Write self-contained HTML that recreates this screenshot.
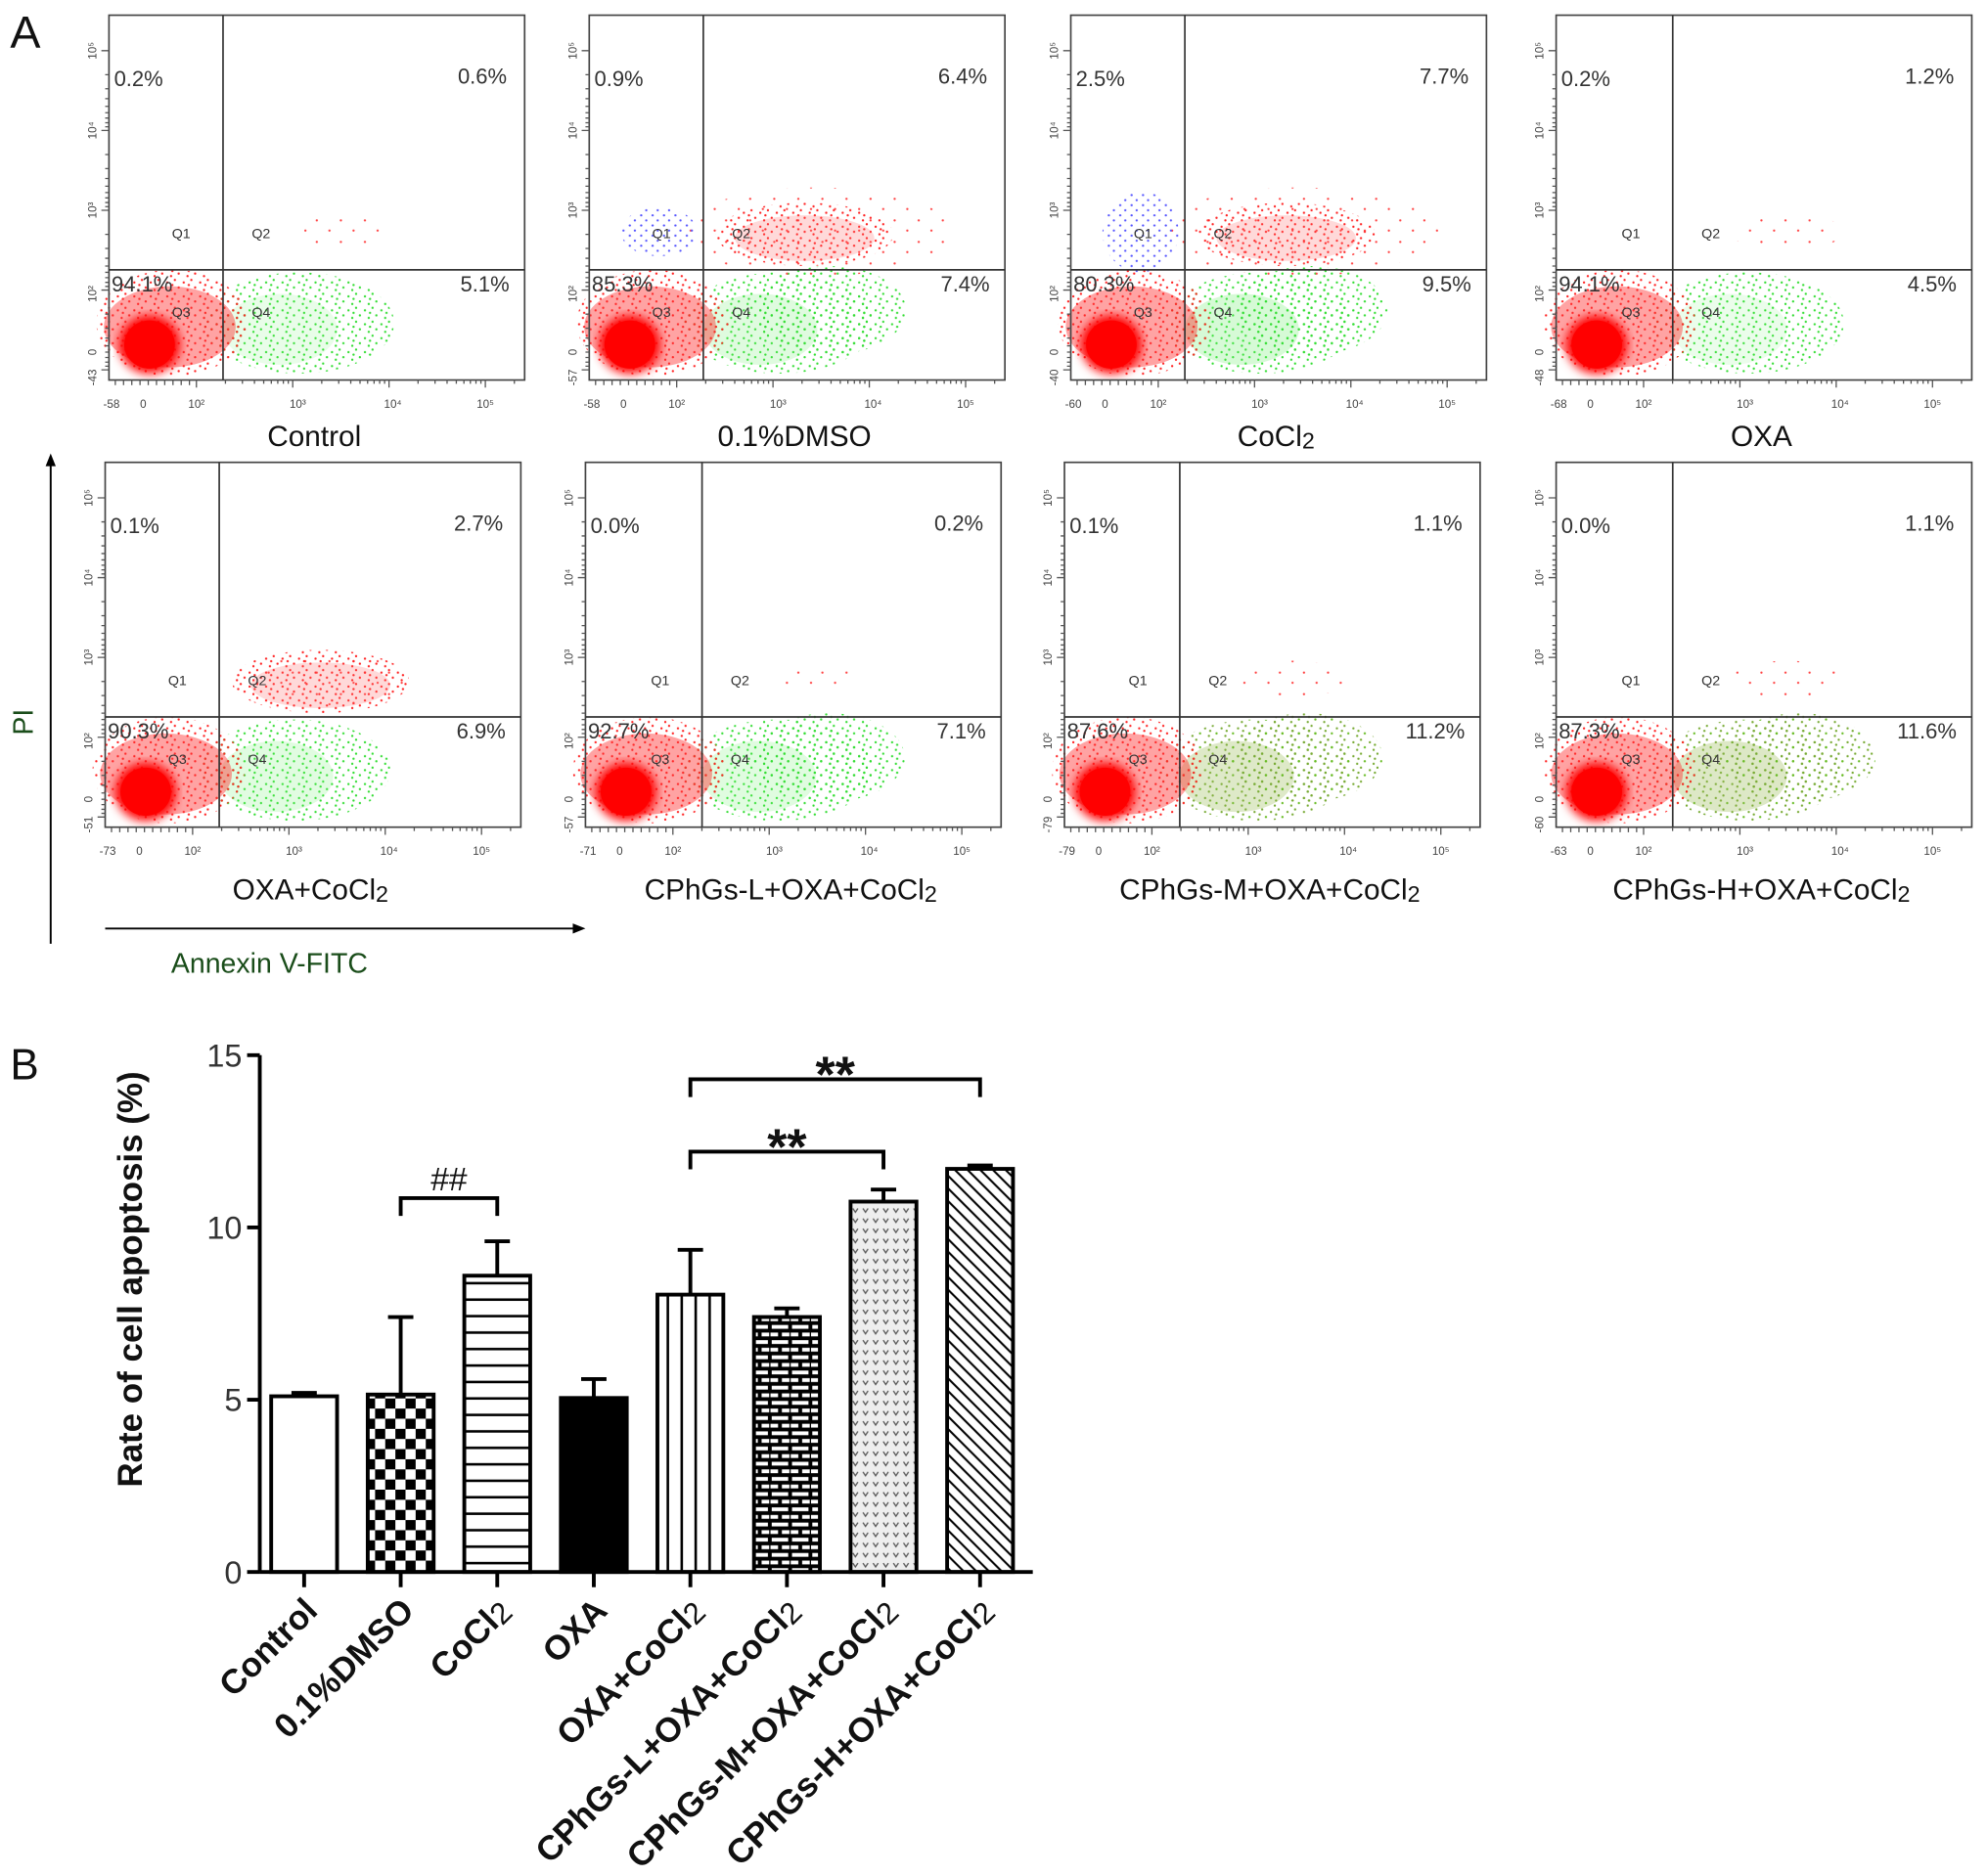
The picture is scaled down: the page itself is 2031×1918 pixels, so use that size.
<!DOCTYPE html>
<html><head><meta charset="utf-8"><style>
html,body{margin:0;padding:0;background:#fff}
svg{display:block}
text{font-family:"Liberation Sans",sans-serif}
</style></head><body>
<svg id="fig" width="2031" height="1918" viewBox="0 0 1568 1481" preserveAspectRatio="none" xmlns="http://www.w3.org/2000/svg">
<defs>
<pattern id="pChecker" width="16" height="16" patternUnits="userSpaceOnUse"><rect width="16" height="16" fill="#fff"/><rect width="8" height="8" fill="#000"/><rect x="8" y="8" width="8" height="8" fill="#000"/></pattern>
<pattern id="pHoriz" width="10" height="13" patternUnits="userSpaceOnUse"><rect width="10" height="13" fill="#fff"/><rect y="11" width="10" height="2" fill="#000"/></pattern>
<pattern id="pVert" width="11" height="10" patternUnits="userSpaceOnUse"><rect width="11" height="10" fill="#fff"/><rect x="9" width="2" height="10" fill="#000"/></pattern>
<pattern id="pBrick" width="16" height="12" patternUnits="userSpaceOnUse"><rect width="16" height="12" fill="#000"/><rect x="1" y="2" width="13" height="3" fill="#fff"/><rect x="9" y="8" width="6" height="3" fill="#fff"/><rect x="0" y="8" width="6" height="3" fill="#fff"/></pattern>
<pattern id="pVee" width="8" height="8" patternUnits="userSpaceOnUse"><rect width="8" height="8" fill="#eee"/><path d="M1 2 L3 5 L5 2" stroke="#555" stroke-width="1" fill="none"/></pattern>
<pattern id="pDiag" width="10" height="10" patternUnits="userSpaceOnUse"><rect width="10" height="10" fill="#fff"/><path d="M-2 -2 L12 12 M-2 8 L2 12 M8 -2 L12 2" stroke="#000" stroke-width="1.6"/></pattern>
<pattern id="dRed" width="13" height="11" patternUnits="userSpaceOnUse"><circle cx="2" cy="3" r="0.9" fill="#f22"/><circle cx="8" cy="1" r="0.9" fill="#f22"/><circle cx="11" cy="7" r="0.9" fill="#f22"/><circle cx="5" cy="9" r="0.9" fill="#f22"/><circle cx="6" cy="5" r="0.9" fill="#f22"/></pattern>
<pattern id="dGreen" width="13" height="11" patternUnits="userSpaceOnUse"><circle cx="2" cy="3" r="0.9" fill="#3d3"/><circle cx="8" cy="1" r="0.9" fill="#3d3"/><circle cx="11" cy="7" r="0.9" fill="#3d3"/><circle cx="5" cy="9" r="0.9" fill="#3d3"/><circle cx="6" cy="5" r="0.9" fill="#3d3"/></pattern>
<pattern id="dOlive" width="13" height="11" patternUnits="userSpaceOnUse"><circle cx="2" cy="3" r="0.9" fill="#7a3"/><circle cx="8" cy="1" r="0.9" fill="#7a3"/><circle cx="11" cy="7" r="0.9" fill="#6b2"/><circle cx="5" cy="9" r="0.9" fill="#7a3"/><circle cx="6" cy="5" r="0.9" fill="#7a3"/></pattern>
<pattern id="dBlue" width="9" height="8" patternUnits="userSpaceOnUse"><circle cx="2" cy="2" r="0.9" fill="#55f"/><circle cx="6" cy="6" r="0.9" fill="#55f"/></pattern>
<pattern id="dRedS" width="19" height="17" patternUnits="userSpaceOnUse"><circle cx="3" cy="4" r="0.9" fill="#f44"/><circle cx="13" cy="12" r="0.9" fill="#f44"/></pattern>
<filter id="blur"><feGaussianBlur stdDeviation="4"/></filter>
</defs>
<g id="panelA"></g>
<g id="panelB"></g>
</svg>
<script>
const NS='http://www.w3.org/2000/svg';
function mk(tag,attrs,parent,txt){const e=document.createElementNS(NS,tag);for(const k in attrs)e.setAttribute(k,attrs[k]);if(txt!==undefined)e.textContent=txt;parent.appendChild(e);return e;}

// ---------- Panel A data ----------
const flowTitles=['Control','0.1%DMSO','CoCl2','OXA','OXA+CoCl2','CPhGs-L+OXA+CoCl2','CPhGs-M+OXA+CoCl2','CPhGs-H+OXA+CoCl2'];
const q1Vals=['0.2%','0.9%','2.5%','0.2%','0.1%','0.0%','0.1%','0.0%'];
const q2Vals=['0.6%','6.4%','7.7%','1.2%','2.7%','0.2%','1.1%','1.1%'];
const q3Vals=['94.1%','85.3%','80.3%','94.1%','90.3%','92.7%','87.6%','87.3%'];
const q4Vals=['5.1%','7.4%','9.5%','4.5%','6.9%','7.1%','11.2%','11.6%'];
const xMinLabels=['-58','-58','-60','-68','-73','-71','-79','-63'];
const yMinLabels=['-43','-57','-40','-48','-51','-57','-79','-60'];

const boxes=[[86,12,90,201],[465,12,90,201],[845,12,90,201],[1228,12,92,201],[83,365,90,201],[462,365,92,201],[840,365,91,201],[1228,365,92,201]];
const A=document.getElementById('panelA');
const la=mk('text',{x:8,y:38,'font-size':36,fill:'#111'},A,'A');


boxes.forEach((b,i)=>{
  const [x0,y0,gdx,gdy]=b;const w=328,h=288;const gx=x0+gdx,gy=y0+gdy;const yb=y0+h;
  const g=mk('g',{},A);
  
  
  const q2=parseFloat(q2Vals[i]),q4=parseFloat(q4Vals[i]),q1=parseFloat(q1Vals[i]);
  const olive=i>=6;
  mk('ellipse',{cx:gx+60,cy:yb-45,rx:75,ry:40,fill:olive?'url(#dOlive)':'url(#dGreen)',opacity:1},g);
  mk('ellipse',{cx:gx+45,cy:yb-40,rx:45,ry:28,fill:olive?'#9b5':'#6e6',opacity:Math.min(.35,q4/35)},g);
  if(q4>7) mk('ellipse',{cx:gx+100,cy:yb-55,rx:60,ry:35,fill:olive?'url(#dOlive)':'url(#dGreen)'},g);
  mk('ellipse',{cx:gx+90,cy:gy-30,rx:Math.min(110,30+q2*12),ry:Math.min(35,10+q2*4),fill:'url(#dRedS)'},g);
  if(q2>2) mk('ellipse',{cx:gx+80,cy:gy-28,rx:70,ry:25,fill:'url(#dRed)'},g);
  if(q2>2) mk('ellipse',{cx:gx+80,cy:gy-25,rx:55,ry:18,fill:'#f66',opacity:.25},g);
  if(q1>0.5) mk('ellipse',{cx:gx-35,cy:gy-30,rx:30,ry:Math.min(35,12+q1*8),fill:'url(#dBlue)'},g);
  mk('ellipse',{cx:x0+50,cy:yb-45,rx:60,ry:42,fill:'url(#dRed)'},g);
  mk('ellipse',{cx:x0+48,cy:yb-42,rx:52,ry:32,fill:'#f33',opacity:.45},g);
  mk('ellipse',{cx:x0+32,cy:yb-28,rx:24,ry:23,fill:'#f00',filter:'url(#blur)'},g);
  mk('ellipse',{cx:x0+32,cy:yb-28,rx:20,ry:19,fill:'#f00'},g);
  mk('rect',{x:x0,y:y0,width:w,height:h,fill:'none',stroke:'#444','stroke-width':1.3},g);
  mk('line',{x1:gx,y1:y0,x2:gx,y2:yb,stroke:'#333','stroke-width':1.3},g);
  mk('line',{x1:x0,y1:gy,x2:x0+w,y2:gy,stroke:'#333','stroke-width':1.3},g);
  let d='';
  for(let k=0;k<5;k++){for(let m=1;m<10;m++){const yy=y0+28+k*63+Math.log10(m)*63; if(yy<yb) d+=`M${x0-(m==1?6:3)} ${yy.toFixed(1)}H${x0}`;}
    for(let m=1;m<10;m++){const xt=x0+69+(k)*76-76+Math.log10(m)*76; if(k>0&&xt<x0+w) d+=`M${xt.toFixed(1)} ${yb}V${yb+(m==1?6:3)}`;}}
  for(let m=0;m<10;m++){d+=`M${x0+5+m*6.5} ${yb}V${yb+4}`;}
  mk('path',{d:d,stroke:'#555','stroke-width':1,fill:'none'},g);
  const xl=[[xMinLabels[i],2],['0',27],['10²',69],['10³',149],['10⁴',224],['10⁵',297]];
  xl.forEach(([t,dx])=>mk('text',{x:x0+dx,y:yb+22,'font-size':9,'text-anchor':'middle',fill:'#444'},g,t));
  const yl=[['10⁵',28],['10⁴',91],['10³',154],['10²',220],['0',266],[yMinLabels[i],286]];
  yl.forEach(([t,dy])=>mk('text',{x:0,y:0,'font-size':9,'text-anchor':'middle',fill:'#444',transform:`translate(${x0-10},${y0+dy}) rotate(-90)`},g,t));
  [['Q1',gx-33,gy-25],['Q2',gx+30,gy-25],['Q3',gx-33,gy+37],['Q4',gx+30,gy+37]].forEach(([t,qx,qy])=>mk('text',{x:qx,y:qy,'font-size':11,'text-anchor':'middle',fill:'#333'},g,t));
  const pct=[[q1Vals[i],x0+4,y0+56,'start'],[q2Vals[i],x0+w-14,y0+54,'end'],[q3Vals[i],x0+2,gy+17,'start'],[q4Vals[i],x0+w-12,gy+17,'end']];
  pct.forEach(([t,px,py,an],j)=>{const e=mk('text',{x:px,y:py,'font-size':17,'text-anchor':an,fill:'#333','font-family':'DejaVu Sans, sans-serif'},g,t);
    });
  const tt=flowTitles[i];
  const te=mk('text',{x:x0+w/2-2,y:yb+(i<4?52:57),'font-size':23,'text-anchor':'middle',fill:'#111'},g);
  
  if(tt.endsWith('CoCl2')){te.appendChild(document.createTextNode(tt.slice(0,-1)));mk('tspan',{'font-size':18,dy:2},te,'2');}
  else te.textContent=tt;
});
mk('line',{x1:40,y1:745,x2:40,y2:364,stroke:'#000','stroke-width':1.5},A);
mk('path',{d:'M36 368 L40 358 L44 368 Z',fill:'#000'},A);
mk('line',{x1:83,y1:733,x2:456,y2:733,stroke:'#000','stroke-width':1.5},A);
mk('path',{d:'M452 729 L462 733 L452 737 Z',fill:'#000'},A);
const pi=mk('text',{x:0,y:0,'font-size':22,fill:'#1a4d1a','text-anchor':'middle',transform:'translate(26,570) rotate(-90)'},A,'PI');

const an=mk('text',{x:135,y:768,'font-size':22,fill:'#1a4d1a'},A,'Annexin V-FITC');


// ---------- Panel B data ----------
const categories=['Control','0.1%DMSO','CoCl2','OXA','OXA+CoCl2','CPhGs-L+OXA+CoCl2','CPhGs-M+OXA+CoCl2','CPhGs-H+OXA+CoCl2'];
const meanValues=[5.1,5.15,8.6,5.05,8.05,7.4,10.75,11.7];
const errValues=[0.1,2.25,1.0,0.55,1.3,0.25,0.35,0.1];
const yTicks=[0,5,10,15];
const fills=['#fff','url(#pChecker)','url(#pHoriz)','#000','url(#pVert)','url(#pBrick)','url(#pVee)','url(#pDiag)'];

const B=document.getElementById('panelB');
const lb=mk('text',{x:8,y:852,'font-size':34,fill:'#111'},B,'B');

const axX=205,axRight=815,y0px=1241,y15px=833;
const yS=v=>y0px-(v/15)*(y0px-y15px);
const xS=i=>240+i*76.2;
const bw=52;
meanValues.forEach((v,i)=>{
  const cx=xS(i);
  const eb=mk('path',{d:`M${cx} ${yS(v)}V${yS(v+errValues[i])}M${cx-10} ${yS(v+errValues[i])}H${cx+10}`,stroke:'#000','stroke-width':3,fill:'none'},B);
  
  const r=mk('rect',{x:cx-bw/2,y:yS(v),width:bw,height:y0px-yS(v),fill:fills[i],stroke:'#000','stroke-width':3},B);
  
  
  mk('line',{x1:cx,y1:y0px,x2:cx,y2:y0px+12,stroke:'#000','stroke-width':3},B);
  const lab=mk('text',{x:0,y:0,'font-size':27,'font-weight':'bold','text-anchor':'end',fill:'#111',transform:`translate(${cx+12},${y0px+32}) rotate(-45)`},B);
  
  const c=categories[i];
  if(c.endsWith('CoCl2')){lab.appendChild(document.createTextNode(c.slice(0,-1)));mk('tspan',{'font-weight':'normal','font-size':24,dy:2},lab,'2');}
  else lab.textContent=c;
});
mk('line',{x1:axX,y1:y15px,x2:axX,y2:y0px,stroke:'#000','stroke-width':3},B);
mk('line',{x1:axX,y1:y0px,x2:axRight,y2:y0px,stroke:'#000','stroke-width':3},B);
yTicks.forEach(t=>{
  mk('line',{x1:axX-10,y1:yS(t),x2:axX,y2:yS(t),stroke:'#000','stroke-width':3},B);
  const tl=mk('text',{x:axX-14,y:yS(t)+9,'font-size':25,'text-anchor':'end',fill:'#333'},B,String(t));
  
});
const yt=mk('text',{x:0,y:0,'font-size':27,'font-weight':'bold','text-anchor':'middle',fill:'#111',transform:'translate(112,1010) rotate(-90)'},B,'Rate of cell apoptosis (%)');

function bracket(i1,i2,yv,txt,name,ty){
  const x1=xS(i1),x2=xS(i2),y=yS(yv);
  const p=mk('path',{d:`M${x1} ${y+14}V${y}H${x2}V${y+14}`,stroke:'#000','stroke-width':3,fill:'none'},B);
  
  const t=mk('text',{x:(x1+x2)/2,y:y-ty,'font-size':txt=='##'?26:40,'text-anchor':'middle',fill:'#111','font-weight':txt=='##'?'normal':'bold'},B,txt);
  
}
bracket(1,2,10.85,'##','bracket-dmso-cocl2',6);
bracket(4,6,12.2,'**','bracket-l-m',-10);
bracket(4,7,14.3,'**','bracket-l-h',-10);
</script>
</body></html>
